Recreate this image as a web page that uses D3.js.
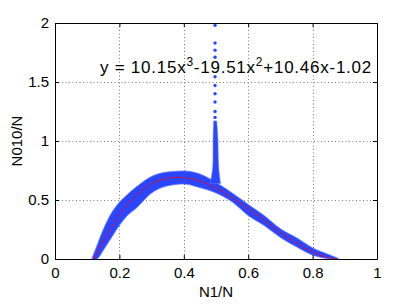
<!DOCTYPE html>
<html>
<head>
<meta charset="utf-8">
<script src="https://cdn.jsdelivr.net/npm/d3@7"></script>
<style>
  body { margin: 0; background: #fff; }
  text { font-family: "Liberation Sans", Arial, sans-serif; }
</style>
</head>
<body>
<script>
// scatter band of the measured points (vertical extent at each x)
var bandX  = [0.115, 0.13, 0.15, 0.175, 0.2, 0.225, 0.25, 0.3, 0.35, 0.4, 0.45, 0.5, 0.55, 0.6, 0.65, 0.7, 0.75, 0.8, 0.85, 0.88];
var bandHi = [0.005, 0.11, 0.25, 0.387, 0.48, 0.546, 0.605, 0.70, 0.737, 0.746, 0.72, 0.648, 0.56, 0.462, 0.367, 0.256, 0.18, 0.094, 0.038, 0.005];
var bandLo = [-0.01, 0.0, 0.075, 0.18, 0.285, 0.37, 0.425, 0.56, 0.62, 0.636, 0.605, 0.56, 0.485, 0.368, 0.283, 0.183, 0.103, 0.033, 0.002, -0.01];

// vertical spike of points near N1/N = 0.5
var spikeY  = [0.64, 0.70, 0.75, 0.85, 1.0, 1.1, 1.17];
var spikeX0 = [0.482, 0.486, 0.489, 0.491, 0.491, 0.492, 0.493];
var spikeX1 = [0.514, 0.511, 0.509, 0.507, 0.506, 0.504, 0.502];
var dotX = [0.497, 0.497, 0.497, 0.497, 0.497, 0.497, 0.497, 0.497, 0.497, 0.497];
var dotY = [1.98, 1.83, 1.77, 1.71, 1.545, 1.47, 1.40, 1.33, 1.25, 1.20];

// fitted cubic (red dashed)
var fitX = [0.12, 0.15, 0.2, 0.25, 0.3, 0.35, 0.4, 0.45, 0.5, 0.55, 0.6, 0.65, 0.7, 0.75, 0.8, 0.85, 0.875];
var fitY = [0, 0.15, 0.375, 0.535, 0.635, 0.685, 0.69, 0.66, 0.60, 0.52, 0.425, 0.325, 0.225, 0.135, 0.06, 0.01, 0];

var xTicks = [0, 0.2, 0.4, 0.6, 0.8, 1];
var xTickLabels = ['0', '0.2', '0.4', '0.6', '0.8', '1'];
var yTicks = [0, 0.5, 1, 1.5, 2];
var yTickLabels = ['0', '0.5', '1', '1.5', '2'];

var w = 415;
var h = 304;
var m = { left: 55, right: 377, top: 23, bottom: 259 };

var x = d3.scaleLinear().domain([0, 1]).range([m.left, m.right]);
var y = d3.scaleLinear().domain([0, 2]).range([m.bottom, m.top]);

var svg = d3.select('body')
  .append('svg')
  .attr('width', w)
  .attr('height', h);

svg.append('rect').attr('width', w).attr('height', h).attr('fill', '#fff');

svg.append('clipPath').attr('id', 'clip')
  .append('rect')
  .attr('x', m.left).attr('y', m.top)
  .attr('width', m.right - m.left).attr('height', m.bottom - m.top);

// grid
var grid = svg.append('g')
  .attr('stroke', '#777')
  .attr('stroke-width', 1)
  .attr('stroke-dasharray', '1,2.5');
grid.selectAll('.gx')
  .data(xTicks.slice(1, -1))
  .enter()
  .append('line')
  .attr('x1', function(d) { return Math.round(x(d)) + 0.5; })
  .attr('x2', function(d) { return Math.round(x(d)) + 0.5; })
  .attr('y1', m.top)
  .attr('y2', m.bottom);
grid.selectAll('.gy')
  .data(yTicks.slice(1, -1))
  .enter()
  .append('line')
  .attr('y1', function(d) { return Math.round(y(d)) + 0.5; })
  .attr('y2', function(d) { return Math.round(y(d)) + 0.5; })
  .attr('x1', m.left)
  .attr('x2', m.right);

var plot = svg.append('g').attr('clip-path', 'url(#clip)');
var blue = '#2a46ff';

// band
var band = bandX.map(function(d, i) { return [d, bandLo[i], bandHi[i]]; });
plot.append('path')
  .datum(band)
  .attr('fill', blue)
  .attr('stroke', '#5a70ff')
  .attr('stroke-width', 0.8)
  .attr('d', d3.area()
    .x(function(d) { return x(d[0]); })
    .y0(function(d) { return y(d[1]); })
    .y1(function(d) { return y(d[2]); })
    .curve(d3.curveMonotoneX));

// spike
var spike = spikeY.map(function(d, i) { return [d, spikeX0[i], spikeX1[i]]; });
plot.append('path')
  .datum(spike)
  .attr('fill', blue)
  .attr('stroke', '#5a70ff')
  .attr('stroke-width', 0.6)
  .attr('d', d3.area()
    .y(function(d) { return y(d[0]); })
    .x0(function(d) { return x(d[1]); })
    .x1(function(d) { return x(d[2]); })
    .curve(d3.curveMonotoneY));

plot.selectAll('circle')
  .data(dotY)
  .enter()
  .append('circle')
  .attr('cx', function(d, i) { return x(dotX[i]); })
  .attr('cy', function(d) { return y(d); })
  .attr('r', 1.7)
  .attr('fill', blue);

// fitted line
plot.append('path')
  .datum(fitX.map(function(d, i) { return [d, fitY[i]]; }))
  .attr('fill', 'none')
  .attr('stroke', '#ff0000')
  .attr('stroke-width', 1)
  .attr('stroke-dasharray', '4,2')
  .attr('d', d3.line()
    .x(function(d) { return x(d[0]); })
    .y(function(d) { return y(d[1]); })
    .curve(d3.curveCatmullRom));

// axes (box with inside ticks)
function styleAxis(g) {
  g.selectAll('.domain').attr('stroke', '#000');
  g.selectAll('.tick line').attr('stroke', '#000');
  g.selectAll('text')
    .attr('fill', '#000')
    .attr('font-size', '15px')
    .attr('font-family', '"Liberation Sans", Arial, sans-serif');
}

svg.append('g')
  .attr('transform', 'translate(0,' + m.bottom + ')')
  .call(d3.axisBottom(x).tickValues(xTicks)
    .tickFormat(function(d, i) { return xTickLabels[i]; })
    .tickSize(-4).tickSizeOuter(0).tickPadding(8))
  .call(styleAxis);

svg.append('g')
  .attr('transform', 'translate(' + m.left + ',0)')
  .call(d3.axisLeft(y).tickValues(yTicks)
    .tickFormat(function(d, i) { return yTickLabels[i]; })
    .tickSize(-4).tickSizeOuter(0).tickPadding(6))
  .call(styleAxis);

svg.append('g')
  .attr('transform', 'translate(0,' + m.top + ')')
  .call(d3.axisTop(x).tickValues(xTicks).tickFormat('')
    .tickSize(-4).tickSizeOuter(0))
  .call(styleAxis);

svg.append('g')
  .attr('transform', 'translate(' + m.right + ',0)')
  .call(d3.axisRight(y).tickValues(yTicks).tickFormat('')
    .tickSize(-4).tickSizeOuter(0))
  .call(styleAxis);

// axis labels
svg.append('text')
  .attr('x', (m.left + m.right) / 2)
  .attr('y', 297)
  .attr('text-anchor', 'middle')
  .attr('font-size', '15px')
  .text('N1/N');

svg.append('text')
  .attr('transform', 'translate(22,' + (m.top + m.bottom) / 2 + ') rotate(-90)')
  .attr('text-anchor', 'middle')
  .attr('font-size', '15px')
  .text('N010/N');

// equation
var eq = svg.append('text')
  .attr('x', 100)
  .attr('y', 73)
  .attr('font-size', '17px')
  .attr('letter-spacing', '0.75px')
  .attr('fill', '#000');
eq.append('tspan').text('y = 10.15x');
eq.append('tspan').attr('dy', -7).attr('font-size', '12px').text('3');
eq.append('tspan').attr('dy', 7).text('-19.51x');
eq.append('tspan').attr('dy', -7).attr('font-size', '12px').text('2');
eq.append('tspan').attr('dy', 7).text('+10.46x-1.02');
</script>
</body>
</html>
